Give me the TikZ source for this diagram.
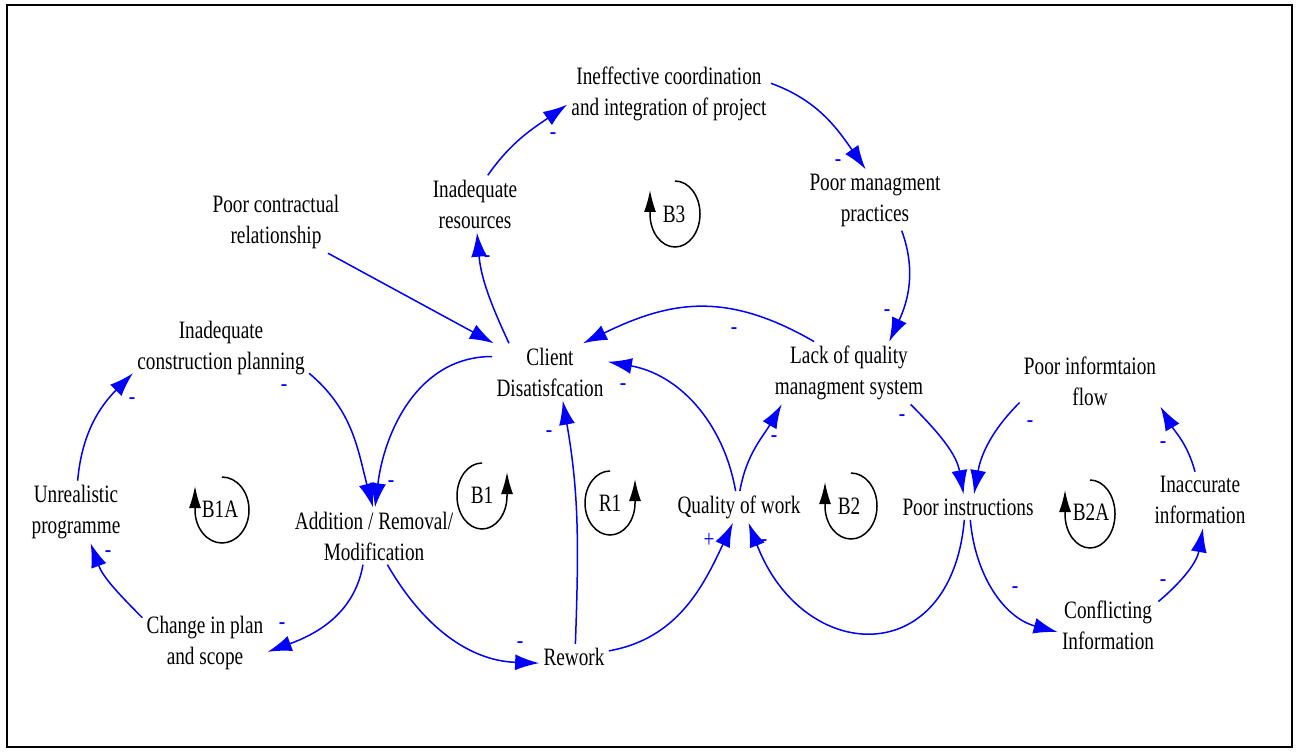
\documentclass[tikz,border=0pt]{standalone}
\usepackage{fontspec}
\setmainfont{Liberation Serif}[FakeStretch=0.77]
\usetikzlibrary{arrows.meta}
\begin{document}
\begin{tikzpicture}[>={Latex[length=12pt,width=8pt]},x=0.5pt,y=0.5pt,
	font=\fontsize{12.5}{15.5}\selectfont,
	var/.style={align=center,inner sep=2pt},
	link/.style={->,blue,line width=0.75pt},
	sgn/.style={blue,inner sep=0pt},
	loopline/.style={-{Latex[length=11pt,width=6pt]},line width=0.75pt}]
	\useasboundingbox (0,0) rectangle (1299,-754);
	\draw[line width=1pt] (7,-5) rectangle (1292,-747);
	\node[var] (ico) at (669,-94) {Ineffective coordination\\and integration of project};
	\node[var] (ir) at (475,-204) {Inadequate\\resources};
	\node[var] (pcr) at (276,-222) {Poor contractual\\relationship};
	\node[var] (pmp) at (875,-200) {Poor managment\\practices};
	\node[var] (cd) at (550,-372) {Client\\Disatisfcation};
	\node[var] (lqm) at (849,-373) {Lack of quality\\managment system};
	\node[var] (icp) at (221,-348) {Inadequate\\construction planning};
	\node[var] (pif) at (1090,-381) {Poor informtaion\\flow};
	\node[var] (unr) at (76,-512) {Unrealistic\\programme};
	\node[var] (arm) at (374,-536) {Addition / Removal/\\Modification};
	\node[var] (qw) at (739,-507) {Quality of work};
	\node[var] (pi) at (968,-507) {Poor instructions};
	\node[var] (ii) at (1200,-500) {Inaccurate\\information};
	\node[var] (cps) at (205,-643) {Change in plan\\and scope};
	\node[var] (rw) at (574,-657) {Rework};
	\node[var] (ci) at (1108,-625) {Conflicting\\Information};

	\draw[link] (unr.87) to[out=85,in=225] (icp.196);
	\draw[link] (icp.-16) to[out=-40,in=105] (arm.92);
	\draw[link] (cd.165) to[out=180,in=83] (arm.88);
	\draw[link] (arm.-111) to[out=-100,in=20] (cps.-8);
	\draw[link] (cps.158) to[out=135,in=-70] (unr.-65);
	\draw[link] (arm.-65) to[out=-60,in=178] (rw.190);
	\draw[link] (rw.84) to[out=88,in=-80] (cd.-66);
	\draw[link] (rw.10) to[out=10,in=245] (qw.-111);
	\draw[link] (qw.102) to[out=100,in=-10] (cd.10);
	\draw[link] (qw.87) to[out=80,in=240] (lqm.205);
	\draw[link] (pi.-106) to[out=-95,in=-69,looseness=1.8] (qw.-59);
	\draw[link] (lqm.138) to[out=150,in=26,looseness=1.1] (cd.41);
	\draw[link] (pmp.-49) to[out=-70,in=65] (lqm.38);
	\draw[link] (ico.6) to[out=-20,in=125] (pmp.107);
	\draw[link] (ir.66) to[out=55,in=215] (ico.186);
	\draw[link] (cd.145) to[out=115,in=-85] (ir.-86);
	\draw[link] (pcr.-31) -- (cd.153);
	\draw[link] (lqm.-27) to[out=-45,in=100] (pi.109);
	\draw[link] (pif.197) to[out=-135,in=80] (pi.65);
	\draw[link] (pi.-80) to[out=-85,in=165] (ci.188);
	\draw[link] (ci.25) to[out=40,in=-100] (ii.-84);
	\draw[link] (ii.100) to[out=105,in=-60] (pif.-20);

	\node[sgn] (s1) at (132,-401) {-};
	\node[sgn] (s2) at (284,-388) {-};
	\node[sgn] (s3) at (391,-484) {-};
	\node[sgn] (s4) at (282,-626) {-};
	\node[sgn] (s5) at (108,-554) {-};
	\node[sgn] (s6) at (520,-645) {-};
	\node[sgn] (s7) at (549,-434) {-};
	\node[sgn] (s8) at (709,-540) {+};
	\node[sgn] (s9) at (623,-387) {-};
	\node[sgn] (s10) at (774,-439) {-};
	\node[sgn] (s11) at (764,-543) {-};
	\node[sgn] (s12) at (734,-331) {-};
	\node[sgn] (s13) at (887,-313) {-};
	\node[sgn] (s14) at (838,-163) {-};
	\node[sgn] (s15) at (553,-136) {-};
	\node[sgn] (s16) at (487,-259) {-};
	\node[sgn] (s17) at (902,-418) {-};
	\node[sgn] (s18) at (1030,-424) {-};
	\node[sgn] (s19) at (1015,-590) {-};
	\node[sgn] (s20) at (1163,-583) {-};
	\node[sgn] (s21) at (1163,-445) {-};

	\draw[loopline] (222,-477) arc[start angle=90,end angle=-180,x radius=27,y radius=33] -- ++(0,24);
	\node (b1a) at (220,-509) {B1A};
	\draw[loopline] (482,-463) arc[start angle=90,end angle=360,x radius=25,y radius=33] -- ++(0,24);
	\node (b1) at (482,-495) {B1};
	\draw[loopline] (610,-471) arc[start angle=90,end angle=360,x radius=25,y radius=32] -- ++(0,24);
	\node (r1) at (610,-503) {R1};
	\draw[loopline] (851,-473) arc[start angle=90,end angle=-180,x radius=26,y radius=33] -- ++(0,24);
	\node (b2) at (849,-506) {B2};
	\draw[loopline] (1090,-480) arc[start angle=90,end angle=-180,x radius=25,y radius=34] -- ++(0,24);
	\node (b2a) at (1091,-512) {B2A};
	\draw[loopline] (675,-181) arc[start angle=90,end angle=-180,x radius=25,y radius=33] -- ++(0,24);
	\node (b3) at (674,-214) {B3};
\end{tikzpicture}
\end{document}
